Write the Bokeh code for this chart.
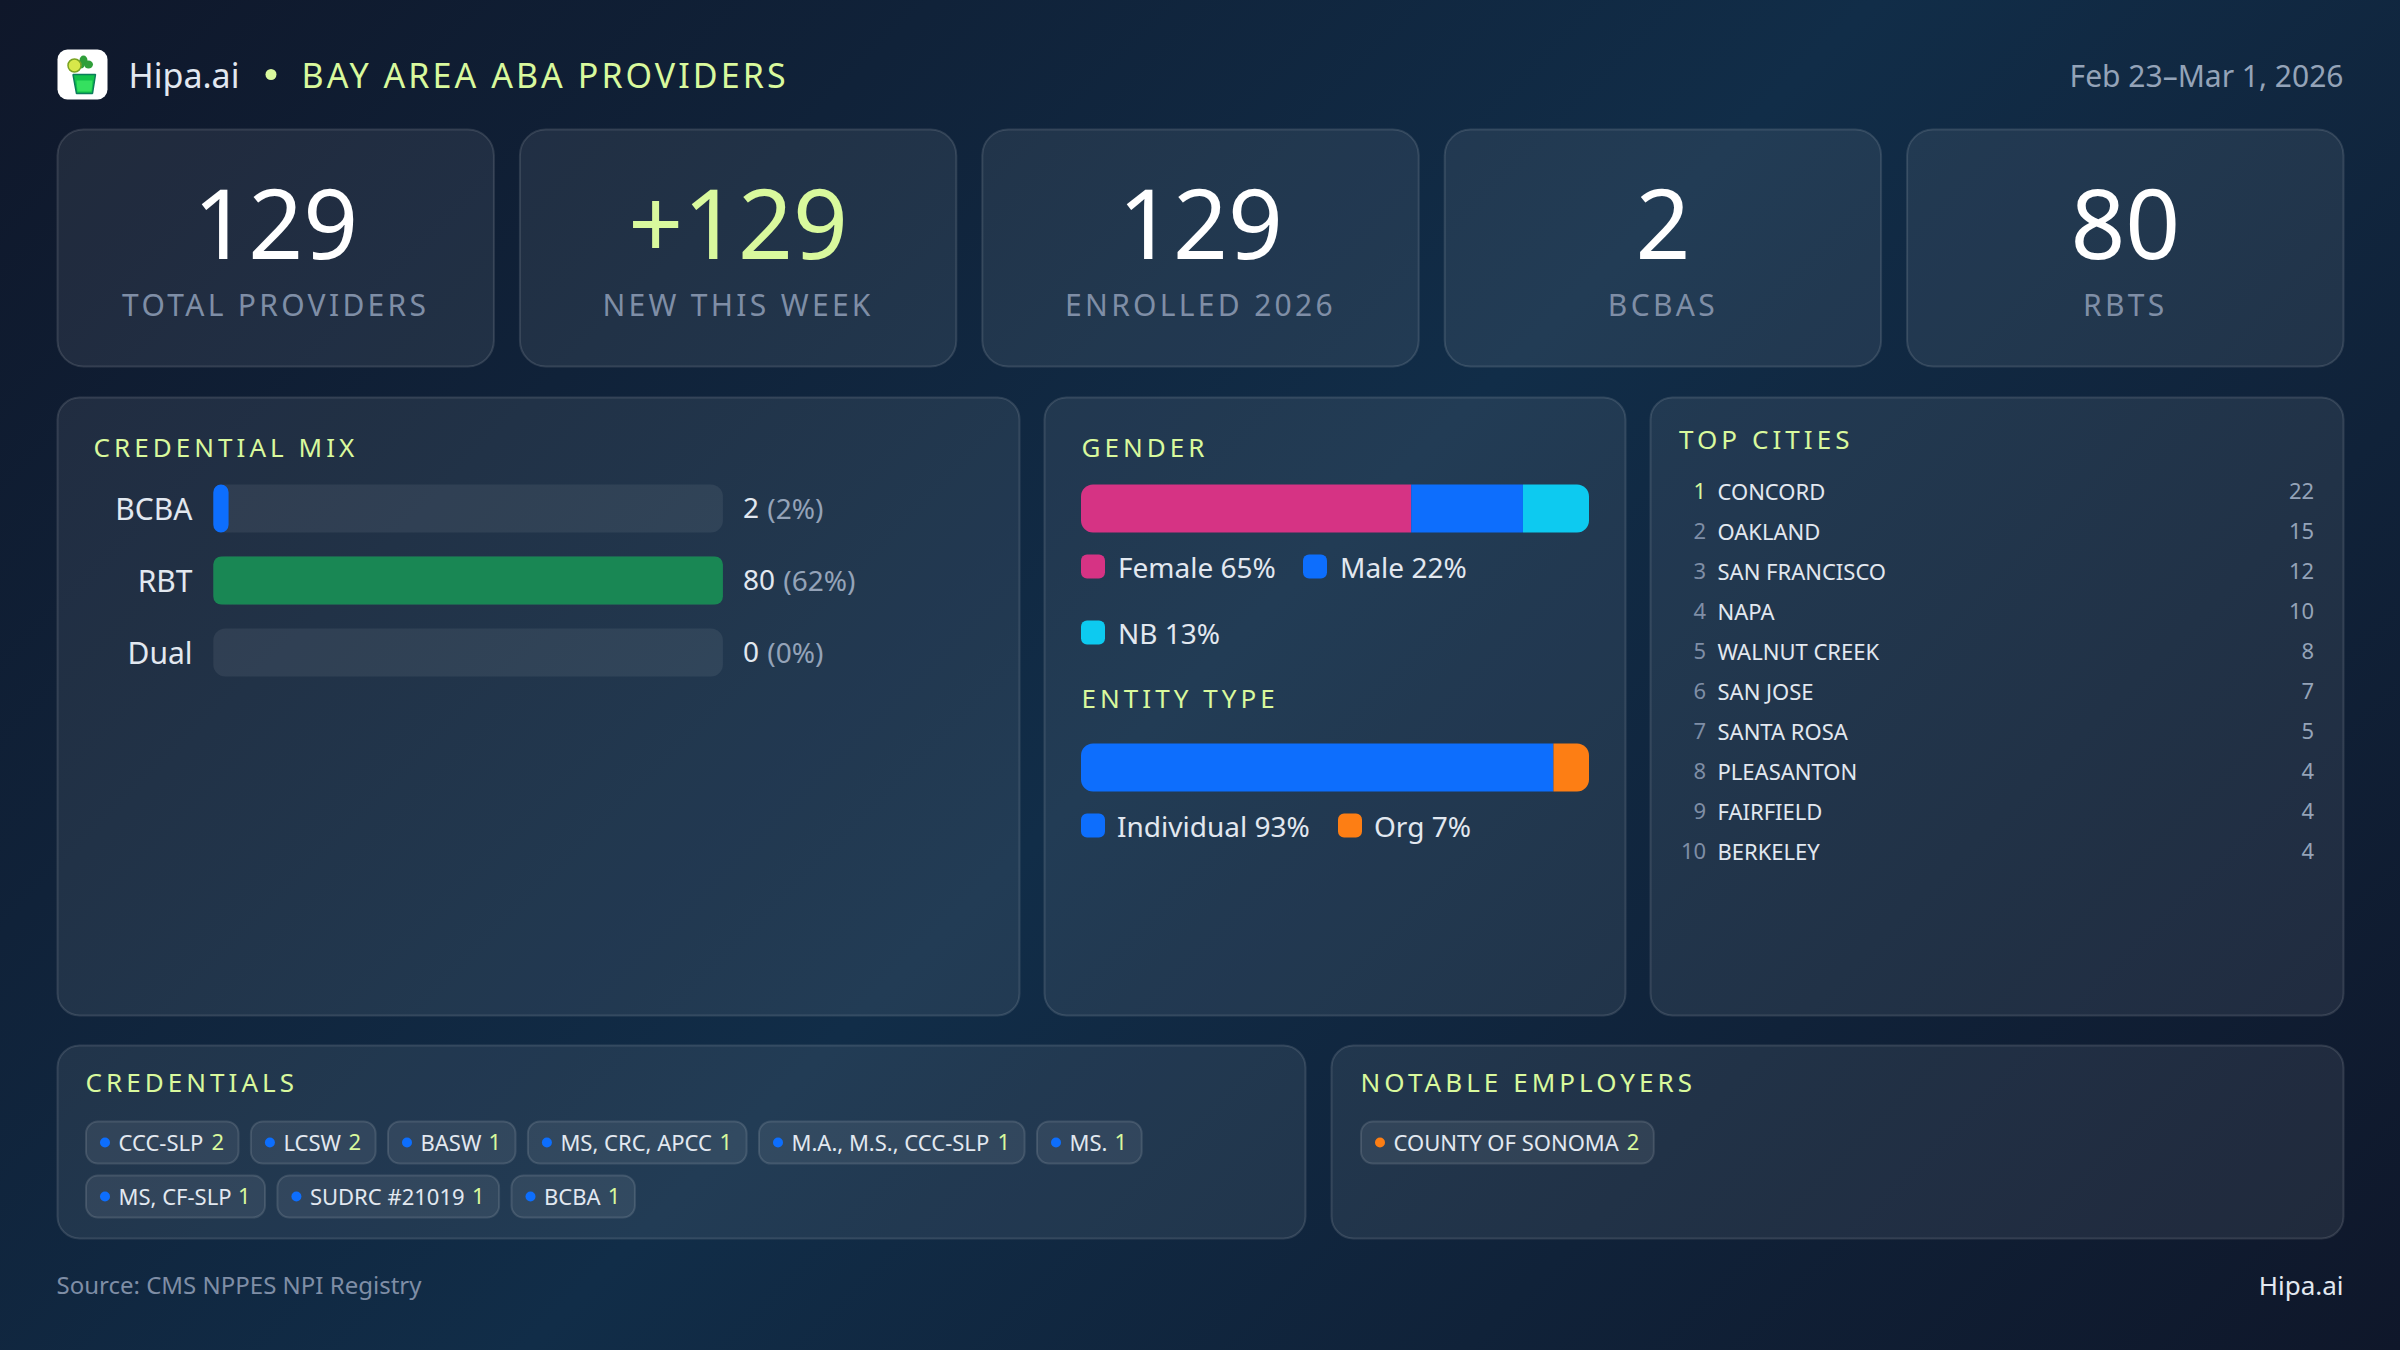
from bokeh.embed import file_html
from bokeh.resources import INLINE
from bokeh.plotting import figure
from bokeh.io import curdoc
from bokeh.core.properties import value
from bokeh.models import Range1d, GlobalInlineStyleSheet, CustomJS

# ---------- data ----------
kpi_values = ["129", "+129", "129", "2", "80"]
kpi_labels = ["TOTAL PROVIDERS", "NEW THIS WEEK", "ENROLLED 2026", "BCBAS", "RBTS"]
cred_names = ["BCBA", "RBT", "Dual"]
cred_counts = [2, 80, 0]
cred_pcts = [2, 62, 0]
gender_names = ["Female", "Male", "NB"]
gender_pcts = [65, 22, 13]
entity_names = ["Individual", "Org"]
entity_pcts = [93, 7]
city_names = ["CONCORD", "OAKLAND", "SAN FRANCISCO", "NAPA", "WALNUT CREEK",
              "SAN JOSE", "SANTA ROSA", "PLEASANTON", "FAIRFIELD", "BERKELEY"]
city_counts = [22, 15, 12, 10, 8, 7, 5, 4, 4, 4]
chip_names = ["CCC-SLP", "LCSW", "BASW", "MS, CRC, APCC", "M.A., M.S., CCC-SLP", "MS.",
              "MS, CF-SLP", "SUDRC #21019", "BCBA"]
chip_counts = [2, 2, 1, 1, 1, 1, 1, 1, 1]
employer_names = ["COUNTY OF SONOMA"]
employer_counts = [2]
header_title = "BAY AREA ABA PROVIDERS"
section_titles = ["CREDENTIAL MIX", "GENDER", "ENTITY TYPE", "TOP CITIES", "CREDENTIALS", "NOTABLE EMPLOYERS"]

# ---------- style ----------
FONT = "Noto Sans"
LIME = "#d9f99d"
WHITE = "#ffffff"
TEXT = "#e2e8f0"
MUTED = "#94a3b8"
DIM = "#7f8ea6"
BLUE, PINK, CYAN, ORANGE, GREEN = "#0d6efd", "#d63384", "#0dcaf0", "#fd7e14", "#198754"
gender_colors = [PINK, BLUE, CYAN]
entity_colors = [BLUE, ORANGE]
BASELINE_FIX = 0.354

css_page = """
html, body { margin: 0; padding: 0; }
html { min-height: 100%; background: linear-gradient(135deg, #0f172a 0%, #112d48 50%, #0f172a 100%) fixed; }
body { background: transparent; }
"""

W, H = 2400, 1350
p = figure(width=W, height=H, x_range=Range1d(0, W), y_range=Range1d(H, 0),
           x_axis_type=None, y_axis_type=None, toolbar_location=None,
           output_backend="svg", min_border=0, outline_line_color=None)
p.background_fill_color = None
p.border_fill_color = None
p.grid.visible = False
p.stylesheets = [GlobalInlineStyleSheet(css=css_page)]


def panel(x0, y0, x1, y1, r, fa=0.075, la=0.12):
    p.quad(left=[x0 + 1], right=[x1 - 1], top=[y0 + 1], bottom=[y1 - 1],
           fill_color="#ffffff", fill_alpha=fa, line_color="#ffffff", line_alpha=la,
           line_width=2, border_radius=r)


def label(xs, ys, texts, color, size, align="left", dy=-1.5):
    p.text(x=xs, y=[y - BASELINE_FIX * size + dy for y in ys], text=texts, text_color=color,
           text_font=value(FONT), text_font_size=f"{size}px", text_align=align,
           text_baseline="alphabetic")


def x_scale(name, px0, px1, v0, v1):
    k = (v1 - v0) / (px1 - px0)
    p.extra_x_ranges[name] = Range1d(v0 + (0 - px0) * k, v0 + (W - px0) * k)
    return name


# ---------- header ----------
panel(56, 48, 108, 100, 10, fa=1, la=0)
p.patch([72.5, 95, 92, 76], [74, 74, 93, 93], fill_color="#12c24a", line_color="#0b7d5a", line_width=1.5)
p.patch([76, 92, 91, 77], [80, 80, 91, 91], fill_color="#35e05f", line_color=None)
p.ellipse([83, 88, 80], [60, 64, 64], width=[8, 9, 8], height=[10, 8, 8], fill_color="#2f9e3a", line_color=None)
p.circle([74], [65], radius=6.5, fill_color="#d7e84a", line_color="#7aa322", line_width=1.5)
label([128], [87], ["Hipa.ai"], TEXT, 34, dy=0)
p.circle([270.5], [74], radius=5.5, fill_color=LIME, line_color=None)
label([301], [87], [header_title], LIME, 34, dy=0)
label([2343], [86], ["Feb 23–Mar 1, 2026"], MUTED, 30, "right", dy=0)

# ---------- KPI cards ----------
card_w, card_gap = 438.4, 24.0
for i, (v, l) in enumerate(zip(kpi_values, kpi_labels)):
    x0 = 56 + i * (card_w + card_gap)
    panel(x0, 128, x0 + card_w, 367, 26)
    label([x0 + card_w / 2], [259], [v], LIME if v.startswith("+") else WHITE, 96, "center")
    label([x0 + card_w / 2], [316.5], [l], DIM, 30, "center")

# ---------- main panels ----------
panel(56, 396, 1020, 1016, 22)
panel(1043, 396, 1626, 1016, 22)
panel(1649, 396, 2344, 1016, 22)
panel(56, 1044, 1306, 1239, 22)
panel(1330, 1044, 2344, 1239, 22)

# credential mix
label([93], [457], [section_titles[0]], LIME, 26)
row_y = [508, 580, 652]
cred_max = max(cred_counts)
x_scale("cred", 212.8, 722.4, 0, cred_max)
p.quad(top=[y - 24 for y in row_y], bottom=[y + 24 for y in row_y], left=0, right=cred_max,
       x_range_name="cred", fill_color="#ffffff", fill_alpha=0.07, line_color=None, border_radius=12)
min_frac = 0.03
drawn = [max(c, cred_max * min_frac) if c else 0 for c in cred_counts]
cred_colors = [BLUE, GREEN, GREEN]
bar_y = [y for y, c in zip(row_y, cred_counts) if c]
p.quad(top=[y - 24 for y in bar_y], bottom=[y + 24 for y in bar_y], left=0, right=[d for d in drawn if d],
       x_range_name="cred", fill_color=[c for c, d in zip(cred_colors, drawn) if d], line_color=None,
       border_radius=8)
label([192] * 3, [y + 11 for y in row_y], cred_names, TEXT, 30, "right", dy=0)
label([742.5] * 3, [y + 11 for y in row_y], [str(c) for c in cred_counts], TEXT, 28)
label([743.5 + 16 * len(str(c)) + 7.3 for c in cred_counts], [y + 11 for y in row_y],
      [f"({c}%)" for c in cred_pcts], MUTED, 28)


def stacked(name, pcts, colors, yc):
    x_scale(name, 1080.5, 1588.5, 0, 100)
    start = 0
    n = len(pcts)
    for i, (v, c) in enumerate(zip(pcts, colors)):
        r = (12 if i == 0 else 0, 12 if i == n - 1 else 0, 12 if i == n - 1 else 0, 12 if i == 0 else 0)
        p.quad(top=[yc - 24], bottom=[yc + 24], left=[start], right=[start + v], x_range_name=name,
               fill_color=c, line_color=None, border_radius=r)
        start += v


def swatch(x, y, color):
    p.quad(left=[x], right=[x + 24], top=[y], bottom=[y + 24], fill_color=color,
           line_color=None, border_radius=6)


# gender
label([1081], [457], [section_titles[1]], LIME, 26)
stacked("gender", gender_pcts, gender_colors, 508)
leg_x = [1080.5, 1302.5, 1080.5]
leg_y = [554, 554, 620]
for n, v, c, x, y in zip(gender_names, gender_pcts, gender_colors, leg_x, leg_y):
    swatch(x, y, c)
    label([x + 37], [y + 24], [f"{n} {v}%"], TEXT, 28)

# entity
label([1081], [708], [section_titles[2]], LIME, 26)
stacked("entity", entity_pcts, entity_colors, 767)
for n, v, c, x in zip(entity_names, entity_pcts, entity_colors, [1080.5, 1337.5]):
    swatch(x, 813, c)
    label([x + 36], [837], [f"{n} {v}%"], TEXT, 28)

# top cities
label([1678.5], [449], [section_titles[3]], LIME, 26)
city_y = [500 + 40 * i for i in range(len(city_names))]
label([1705.6], city_y[:1], ["1"], LIME, 22, "right")
label([1705.6] * 9, city_y[1:], [str(i + 2) for i in range(9)], DIM, 22, "right")
label([1717] * 10, city_y, city_names, TEXT, 22)
label([2313.6] * 10, city_y, [str(c) for c in city_counts], MUTED, 22, "right")

# chips
label([85], [1092.7], [section_titles[4]], LIME, 26)
label([1360], [1092.7], [section_titles[5]], LIME, 26)


def chip(x0, w, y0, name, count, dot):
    panel(x0, y0, x0 + w, y0 + 44, 12)
    p.circle([x0 + 20], [y0 + 22], radius=5, fill_color=dot, line_color=None)
    label([x0 + 33.5], [y0 + 31], [name], TEXT, 22)
    label([x0 + w - 15.5], [y0 + 31], [str(count)], LIME, 22, "right")


chip_widths = [154.5, 126.7, 129.5, 220.7, 267.6, 106.7, 181, 223.7, 125.4]
row_breaks = {6}
cx, cy = 84.5, 1120
for i, (n, c, w) in enumerate(zip(chip_names, chip_counts, chip_widths)):
    if i in row_breaks:
        cx, cy = 84.5, 1174
    chip(cx, w, cy, n, c, BLUE)
    cx += w + 10.4
chip(1359.5, 294.8, 1120, employer_names[0], employer_counts[0], ORANGE)

# footer
label([56], [1294], ["Source: CMS NPPES NPI Registry"], DIM, 24)
label([2343], [1294], ["Hipa.ai"], TEXT, 26, "right", dy=0)

# ---------- letter spacing on the SVG texts ----------
spacing = {header_title: 3.05}
spacing.update({t: 4.05 for t in section_titles})
spacing.update({t: 3.3 for t in kpi_labels})
js = CustomJS(args=dict(spacing=spacing, centered=kpi_labels), code="""
function walk(root) {
  root.querySelectorAll('*').forEach(el => {
    if (el.shadowRoot) walk(el.shadowRoot);
    if (el.tagName === 'text' && el.textContent in spacing && !el.dataset.spaced) {
      const s = spacing[el.textContent];
      el.dataset.spaced = '1';
      el.style.letterSpacing = s + 'px';
      if (centered.includes(el.textContent)) {
        const x = parseFloat(el.getAttribute('x')) - s * el.textContent.length / 2;
        el.setAttribute('x', x);
      }
    }
  });
}
let n = 0;
const t = setInterval(() => { walk(document); if (++n > 20) clearInterval(t); }, 100);
""")
doc = curdoc()
doc.add_root(p)
doc.js_on_event("document_ready", js)

open("out.html", "w").write(file_html(p, INLINE))
